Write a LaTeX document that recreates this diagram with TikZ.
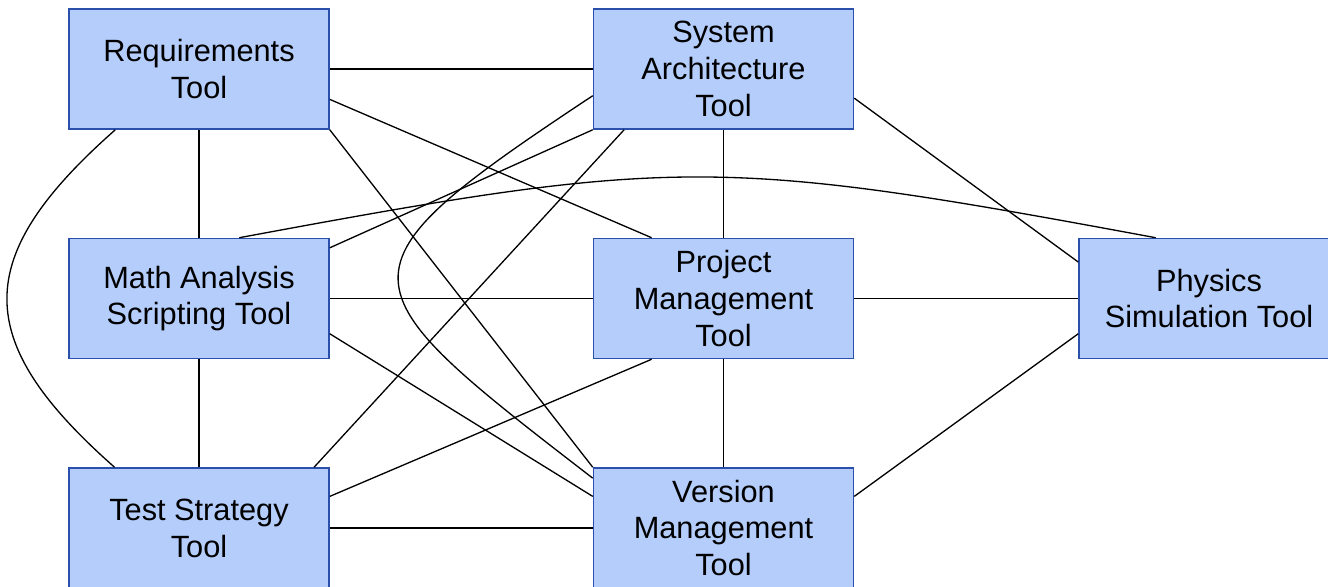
\documentclass[tikz,border=0pt]{standalone}
\usepackage{fontspec}
\setmainfont{Liberation Sans}
\usetikzlibrary{calc}
\definecolor{toolfill}{HTML}{B4CDFB}
\definecolor{tooledge}{HTML}{2A50AC}
\tikzset{
  toolbox/.style={rectangle, draw=tooledge, fill=toolfill, line width=0.9pt,
    minimum width=5.2cm, minimum height=2.4cm, inner sep=0pt, align=center,
    font=\fontsize{17.5}{21}\selectfont},
  link/.style={draw=black, line width=0.75pt}
}
\begin{document}
\begin{tikzpicture}[x=0.02cm, y=-0.02cm]
\useasboundingbox (0,0) rectangle (1328,587);
\clip (0,0) rectangle (1328,587);

% tool boxes
\node[toolbox] (req)  at (199,69)     {Requirements\\Tool};
\node[toolbox] (sys)  at (723.5,69)   {System\\Architecture\\Tool};
\node[toolbox] (math) at (199,298.5)  {Math Analysis\\Scripting Tool};
\node[toolbox] (proj) at (723.5,298.5){Project\\Management\\Tool};
\node[toolbox] (phys) at (1209,298.5) {Physics\\Simulation Tool};
\node[toolbox] (test) at (199,528)    {Test Strategy\\Tool};
\node[toolbox] (ver)  at (723.5,528)  {Version\\Management\\Tool};

% attachment points along the box borders
\coordinate (reqR)  at ($(req.north east)!0.75!(req.south east)$);
\coordinate (reqBL) at ($(req.south west)!0.18!(req.south east)$);
\coordinate (sysL)  at ($(sys.north west)!0.72!(sys.south west)$);
\coordinate (sysB)  at ($(sys.south west)!0.12!(sys.south east)$);
\coordinate (sysR)  at ($(sys.north east)!0.74!(sys.south east)$);
\coordinate (mathT) at ($(math.north west)!0.654!(math.north east)$);
\coordinate (mathRT) at ($(math.north east)!0.083!(math.south east)$);
\coordinate (mathRB) at ($(math.north east)!0.79!(math.south east)$);
\coordinate (projT) at ($(proj.north west)!0.225!(proj.north east)$);
\coordinate (projB) at ($(proj.south west)!0.225!(proj.south east)$);
\coordinate (physT) at ($(phys.north west)!0.296!(phys.north east)$);
\coordinate (physLT) at ($(phys.north west)!0.2!(phys.south west)$);
\coordinate (physLB) at ($(phys.north west)!0.79!(phys.south west)$);
\coordinate (testT) at ($(test.north west)!0.94!(test.north east)$);
\coordinate (testTL) at ($(test.north west)!0.177!(test.north east)$);
\coordinate (testR) at ($(test.north east)!0.24!(test.south east)$);
\coordinate (verLT) at ($(ver.north west)!0.09!(ver.south west)$);
\coordinate (verLB) at ($(ver.north west)!0.24!(ver.south west)$);
\coordinate (verR)  at ($(ver.north east)!0.24!(ver.south east)$);

% straight connectors
\draw[link] (req.east) -- (sys.west);
\draw[link] (reqR) -- (projT);
\draw[link] (req.south east) -- (ver.north west);
\draw[link] (req.south) -- (math.north);
\draw[link] (sys.south west) -- (mathRT);
\draw[link] (sysB) -- (testT);
\draw[link] (sys.south) -- (proj.north);
\draw[link] (sysR) -- (physLT);
\draw[link] (math.east) -- (proj.west);
\draw[link] (mathRB) -- (verLB);
\draw[link] (math.south) -- (test.north);
\draw[link] (proj.east) -- (phys.west);
\draw[link] (projB) -- (testR);
\draw[link] (proj.south) -- (ver.north);
\draw[link] (verR) -- (physLB);
\draw[link] (test.east) -- (ver.west);

% curved connectors
\draw[link] (reqBL) .. controls +(-144,127) and +(-144,-127) .. (testTL);
\draw[link] (sysL) .. controls +(-266,176) and +(-253,-195) .. (verLT);
\draw[link] (mathT) .. controls +(436,-81) and +(-436,-81) .. (physT);
\end{tikzpicture}
\end{document}
